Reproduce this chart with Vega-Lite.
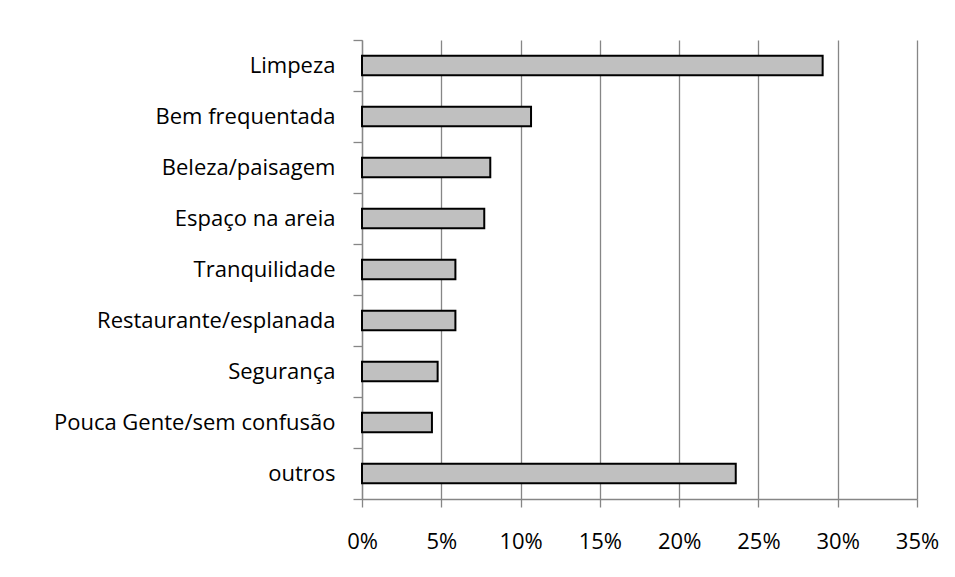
{
  "$schema": "https://vega.github.io/schema/vega-lite/v6.json",
  "width": 555,
  "height": 459,
  "autosize": {"type": "none"},
  "padding": {"left": 362, "top": 40, "right": 38, "bottom": 78},
  "background": "white",
  "data": {"values": [
    {"categoria": "Limpeza", "valor": 0.2905},
    {"categoria": "Bem frequentada", "valor": 0.1066},
    {"categoria": "Beleza/paisagem", "valor": 0.0809},
    {"categoria": "Espaço na areia", "valor": 0.0771},
    {"categoria": "Tranquilidade", "valor": 0.0589},
    {"categoria": "Restaurante/esplanada", "valor": 0.0589},
    {"categoria": "Segurança", "valor": 0.0477},
    {"categoria": "Pouca Gente/sem confusão", "valor": 0.0441},
    {"categoria": "outros", "valor": 0.2357}
  ]},
  "mark": {"type": "bar", "fill": "#c0c0c0", "stroke": "#000000", "strokeWidth": 2, "height": {"band": 0.38}},
  "encoding": {
    "y": {
      "field": "categoria", "type": "nominal", "sort": null, "title": null,
      "scale": {"paddingInner": 0, "paddingOuter": 0},
      "axis": {"tickBand": "extent", "tickSize": 9, "tickColor": "#868686", "tickWidth": 1.3, "domain": true, "domainColor": "#868686", "domainWidth": 1.3, "labelPadding": 18, "labelFontSize": 22, "labelFont": "Open Sans", "labelColor": "#000000", "labelLimit": 400, "grid": false}
    },
    "x": {
      "field": "valor", "type": "quantitative", "title": null,
      "scale": {"domain": [0, 0.35], "nice": false},
      "axis": {"values": [0, 0.05, 0.1, 0.15, 0.2, 0.25, 0.3, 0.35], "format": ".0%", "labelFlush": false, "labelOverlap": false, "grid": true, "gridColor": "#868686", "gridWidth": 1.3, "tickSize": 8, "tickColor": "#868686", "tickWidth": 1.3, "domainColor": "#868686", "domainWidth": 1.3, "labelPadding": 24, "labelFontSize": 22, "labelFont": "Open Sans", "labelColor": "#000000"}
    }
  },
  "config": {"view": {"stroke": null}}
}
